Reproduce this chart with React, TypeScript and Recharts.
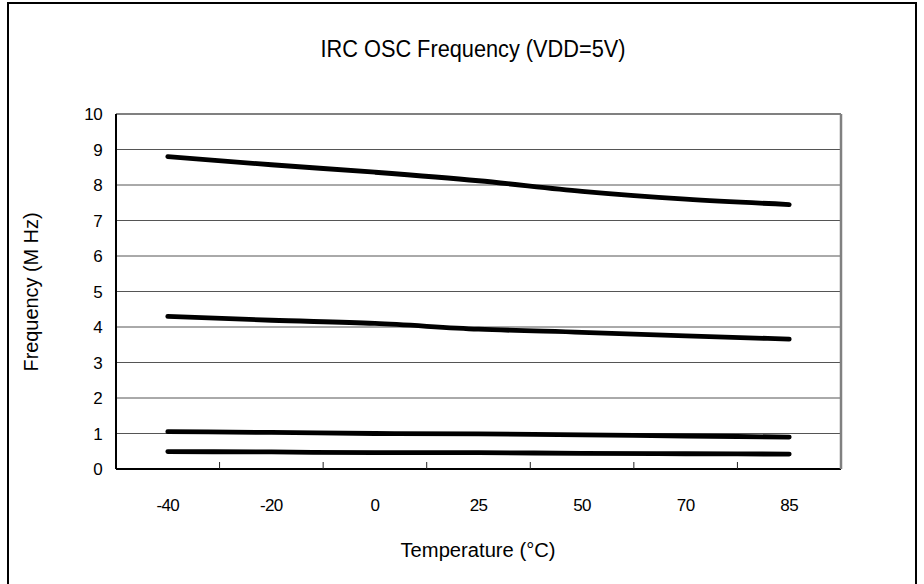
import React from 'react';
import { LineChart, Line, XAxis, YAxis, CartesianGrid, ReferenceLine } from 'recharts';

const temps = ['-40', '-20', '0', '25', '50', '70', '85'];
const freq8 = [8.8, 8.57, 8.36, 8.12, 7.82, 7.6, 7.45];
const freq4 = [4.3, 4.19, 4.1, 3.94, 3.85, 3.75, 3.66];
const freq1 = [1.05, 1.03, 1.0, 0.99, 0.96, 0.93, 0.9];
const freq05 = [0.49, 0.48, 0.46, 0.46, 0.44, 0.43, 0.42];
const yTicks = [0, 1, 2, 3, 4, 5, 6, 7, 8, 9, 10];

const data = temps.map((t, i) => ({
  t,
  a: freq8[i],
  b: freq4[i],
  c: freq1[i],
  d: freq05[i],
}));

const FONT = '"Liberation Sans", Arial, sans-serif';
const MARGIN = { top: 114, right: 82, bottom: 85, left: 56 };
const Y_W = 60;
const R_W = 1;
const PLOT_W = 924 - MARGIN.left - MARGIN.right - Y_W - R_W;
const HALF_BAND = PLOT_W / temps.length / 2;
const X_TICK_MARGIN = 30;

const XTick = (props: any) => {
  const { x, y, payload, index } = props;
  const axisY = y - X_TICK_MARGIN;
  return (
    <g>
      {index < temps.length - 1 && (
        <line x1={x + HALF_BAND} x2={x + HALF_BAND} y1={axisY} y2={axisY - 7} stroke="#222" strokeWidth={1} />
      )}
      <text x={x} y={y} dy="0.71em" textAnchor="middle" fontSize={17} fontFamily={FONT} fill="#000" letterSpacing={-0.6}>
        {payload.value}
      </text>
    </g>
  );
};

const YTick = (props: any) => {
  const { x, y, payload } = props;
  return (
    <text x={x} y={y} dy="0.355em" textAnchor="end" fontSize={17} fontFamily={FONT} fill="#000" letterSpacing={-0.6}>
      {payload.value}
    </text>
  );
};

export default function App() {
  const lineProps = {
    type: 'monotone' as const,
    stroke: '#000',
    strokeWidth: 4.8,
    dot: false,
    activeDot: false,
    isAnimationActive: false,
    strokeLinecap: 'round' as const,
  };
  return (
    <div style={{ position: 'absolute', left: 0, top: 0, width: 924, height: 584, overflow: 'hidden', background: '#fff', fontFamily: FONT }}>
      <div style={{ position: 'absolute', left: 7, top: 2, width: 910, height: 620, border: '2px solid #000', boxSizing: 'border-box' }} />
      <div style={{ position: 'absolute', left: 0, top: 0 }}>
        <LineChart width={924} height={584} data={data} margin={MARGIN}>
          <CartesianGrid horizontal vertical={false} stroke="#555" strokeWidth={1} />
          <XAxis
            dataKey="t"
            scale="band"
            interval={0}
            tickLine={false}
            tickSize={0}
            tickMargin={X_TICK_MARGIN}
            height={30}
            axisLine={{ stroke: '#000', strokeWidth: 2 }}
            tick={<XTick />}
          />
          <YAxis
            domain={[0, 10]}
            ticks={yTicks}
            interval={0}
            tickLine={false}
            tickSize={0}
            tickMargin={14}
            width={Y_W}
            axisLine={{ stroke: '#000', strokeWidth: 2 }}
            tick={<YTick />}
          />
          <YAxis
            yAxisId="r"
            orientation="right"
            domain={[0, 10]}
            tick={false}
            tickLine={false}
            width={R_W}
            axisLine={{ stroke: '#808080', strokeWidth: 2.5 }}
          />
          <ReferenceLine y={10} stroke="#808080" strokeWidth={2} />
          <Line dataKey="a" {...lineProps} />
          <Line dataKey="b" {...lineProps} />
          <Line dataKey="c" {...lineProps} />
          <Line dataKey="d" {...lineProps} />
        </LineChart>
      </div>
      <svg width={924} height={584} style={{ position: 'absolute', left: 0, top: 0, pointerEvents: 'none' }}>
        <text x={473} y={57} textAnchor="middle" fontSize={23} fontFamily={FONT} fill="#000" textLength={305} lengthAdjust="spacingAndGlyphs">
          IRC OSC Frequency (VDD=5V)
        </text>
        <text x={478} y={557} textAnchor="middle" fontSize={20} fontFamily={FONT} fill="#000" textLength={155} lengthAdjust="spacingAndGlyphs">
          Temperature (°C)
        </text>
        <text transform="translate(38,292) rotate(-90)" x={0} y={0} textAnchor="middle" fontSize={20} fontFamily={FONT} fill="#000" textLength={159} lengthAdjust="spacingAndGlyphs">
          Frequency (M Hz)
        </text>
      </svg>
    </div>
  );
}
